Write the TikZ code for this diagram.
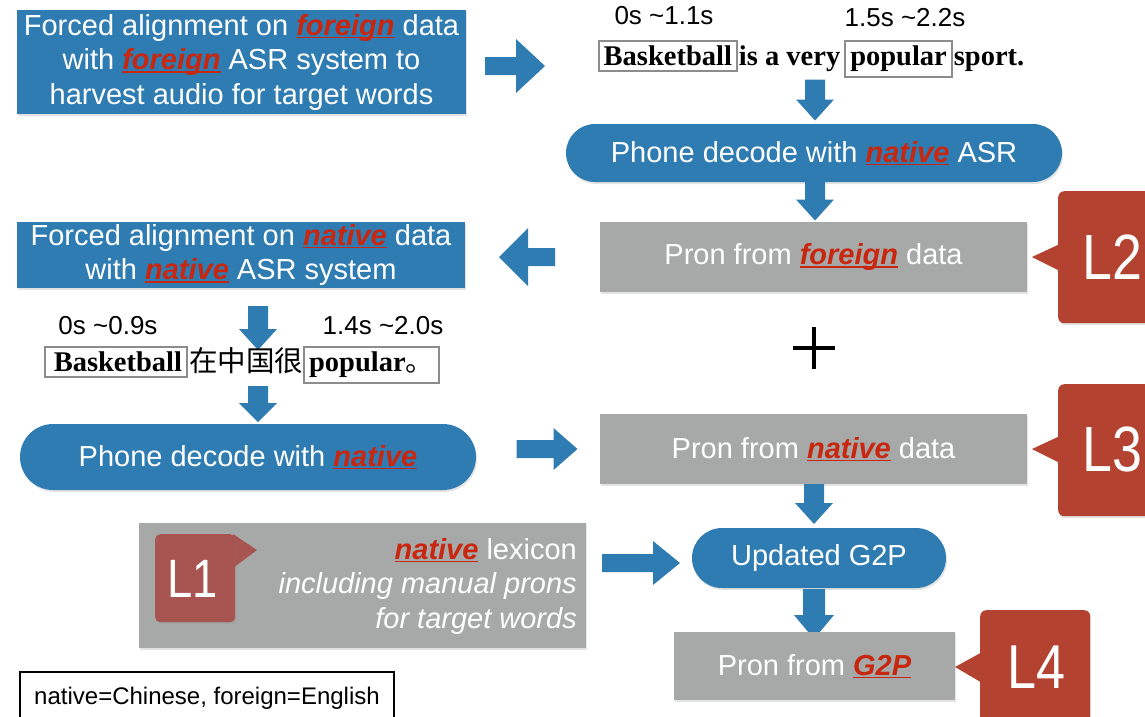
\documentclass[tikz,border=0pt]{standalone}
\usepackage{fontspec}
\setmainfont{Liberation Sans}
\newfontfamily\serifbf{Liberation Serif}
\newfontfamily\cjk{Noto Sans CJK SC}
\usetikzlibrary{shadows}
\definecolor{boxblue}{RGB}{47,124,178}
\definecolor{boxgray}{RGB}{166,169,168}
\definecolor{callred}{RGB}{180,66,48}
\definecolor{callredlight}{RGB}{168,84,80}
\definecolor{hlred}{RGB}{200,38,14}
\definecolor{framegray}{RGB}{140,140,140}
\newcommand\hl[1]{{\color{hlred}\setbox0\hbox{\bfseries\itshape #1}\rlap{\rule[-3pt]{\wd0}{1.5pt}}\box0}}
\newcommand\wbox[1]{{\setlength\fboxsep{4pt}\setlength\fboxrule{2pt}\fcolorbox{framegray}{white}{#1}}}
\newcommand\Lbl[1]{\scalebox{0.84}[1]{#1}}
\newcommand\blkarrow[7]{%
  \begin{scope}[shift={(#1,#2)},rotate=#3]
    \fill[boxblue] (-#4/2,-#6) -- (#4/2-#7,-#6) -- (#4/2-#7,-#5) -- (#4/2,0)
      -- (#4/2-#7,#5) -- (#4/2-#7,#6) -- (-#4/2,#6) -- cycle;
  \end{scope}}
\begin{document}
\begin{tikzpicture}[x=1pt,y=-1pt,
  shad/.style={drop shadow={opacity=0.22,shadow xshift=1pt,shadow yshift=-2pt}},
  bluebox/.style={fill=boxblue,text=white,inner sep=0pt,align=center,
    font=\fontsize{29}{34.5}\selectfont,shad},
  graybox/.style={fill=boxgray,text=white,inner sep=0pt,align=center,
    font=\fontsize{29}{34.5}\selectfont,shad},
  timing/.style={font=\fontsize{26}{30}\selectfont,inner sep=0pt},
  sent/.style={font=\fontsize{28.5}{32}\selectfont\serifbf\bfseries,inner sep=0pt},
  callbox/.style={fill=callred,rounded corners=6pt,shad},
  calltext/.style={text=white,inner sep=0pt},
]
\useasboundingbox (0,0) rectangle (1145,716);
\clip (0,0) rectangle (1145,716);

% top-left box
\node[bluebox,minimum width=449pt,minimum height=104pt] (fa1) at (241.5,62)
  {Forced alignment on \hl{foreign} data\\with \hl{foreign} ASR system to\\harvest audio for target words};
\blkarrow{515}{66}{0}{60}{27}{9}{29}

% timings and sentence 1
\node[timing] (t1) at (664,16) {0s \textasciitilde1.1s};
\node[timing] (t2) at (905,18) {1.5s \textasciitilde2.2s};
\node[sent] (s1) at (811,59) {\wbox{Basketball}\hspace{1pt}is a very\hspace{4pt}\wbox{popular}\hspace{1pt}sport.};
\blkarrow{815}{100}{-90}{41}{19}{10}{21}

% phone decode native ASR
\node[bluebox,rounded corners=29pt,minimum width=496pt,minimum height=58pt] (pd1) at (814,153)
  {Phone decode with \hl{native} ASR};
\blkarrow{815}{201}{-90}{39}{19}{10}{21}

% pron from foreign
\node[graybox,minimum width=427pt,minimum height=70pt] (pf) at (813.5,257)
  {Pron from \hl{foreign} data};

% L2
\fill[callred] (1032,257) -- (1062,243) -- (1062,272) -- cycle;
\node[callbox,minimum width=110pt,minimum height=132pt,anchor=north west] (c2) at (1058,191) {};
\node[calltext,font=\fontsize{64}{64}\selectfont] (l2) at (1112,257) {\Lbl{L2}};

% left arrow
\blkarrow{527}{257}{180}{56}{29}{9}{29}

% forced alignment native
\node[bluebox,minimum width=448pt,minimum height=66pt] (fa2) at (241,255)
  {Forced alignment on \hl{native} data\\with \hl{native} ASR system};

% timings 2 and sentence 2
\node[timing] (t3) at (108,326) {0s \textasciitilde0.9s};
\node[timing] (t4) at (383,326) {1.4s \textasciitilde2.0s};
\blkarrow{258}{328}{-90}{44}{19}{10}{21}
\node[sent] (s2) at (242,365) {\wbox{\hspace{4pt}Basketball}\hspace{1pt}{\cjk\mdseries 在中国很}\wbox{popular{\cjk\mdseries 。}}};
\blkarrow{258}{404}{-90}{36}{19}{10}{19}

% phone decode native
\node[bluebox,rounded corners=33pt,minimum width=456pt,minimum height=66pt] (pd2) at (248,457)
  {Phone decode with \hl{native}};
\blkarrow{547}{449}{0}{61}{21}{9}{24}

% pron from native
\node[graybox,minimum width=427pt,minimum height=70pt] (pn) at (813.5,449)
  {Pron from \hl{native} data};

% L3
\fill[callred] (1032,449) -- (1062,435) -- (1062,464) -- cycle;
\node[callbox,minimum width=110pt,minimum height=132pt,anchor=north west] (c3) at (1058,384) {};
\node[calltext,font=\fontsize{64}{64}\selectfont] (l3) at (1112,449) {\Lbl{L3}};

% plus
\draw[line width=4pt] (793,348) -- (835,348) (814,327) -- (814,369);

\blkarrow{814}{504}{-90}{40}{19}{10}{21}

% updated G2P
\node[bluebox,rounded corners=30pt,minimum width=254pt,minimum height=60pt] (g2p) at (819,558)
  {Updated G2P};

% L1 gray box
\node[graybox,minimum width=447pt,minimum height=125pt] (lex) at (362.5,585.5) {};
\node[text=white,inner sep=0pt,align=right,anchor=east,font=\fontsize{29}{34.5}\selectfont] (lext) at (577,586)
  {\hl{native} lexicon\\\itshape including manual prons\\\itshape for target words};
\fill[callredlight] (233,534) -- (257,550) -- (233,568) -- cycle;
\node[fill=callredlight,rounded corners=5pt,minimum width=80pt,minimum height=88pt,anchor=north west,
  drop shadow={opacity=0.18,shadow xshift=1pt,shadow yshift=-1.5pt}] (c1) at (155,534) {};
\node[calltext,font=\fontsize{54}{54}\selectfont] (l1) at (193,579) {\Lbl{L1}};

\blkarrow{641}{563}{0}{78}{22}{9}{27}
\blkarrow{814}{614}{-90}{50}{20}{11}{24}

% pron from G2P
\node[graybox,minimum width=281pt,minimum height=68pt] (pg) at (814.5,666)
  {Pron from \hl{G2P}};

% L4
\fill[callred] (955,667) -- (984,651) -- (984,684) -- cycle;
\node[callbox,minimum width=110pt,minimum height=130pt,anchor=north west] (c4) at (980,610) {};
\node[calltext,font=\fontsize{62}{62}\selectfont] (l4) at (1036,667) {\Lbl{L4}};

% legend
\draw[line width=1.2pt] (20,672) rectangle (394,730);
\node[font=\fontsize{24}{28}\selectfont,inner sep=0pt] (leg) at (207,698) {native=Chinese, foreign=English};
\end{tikzpicture}
\end{document}
